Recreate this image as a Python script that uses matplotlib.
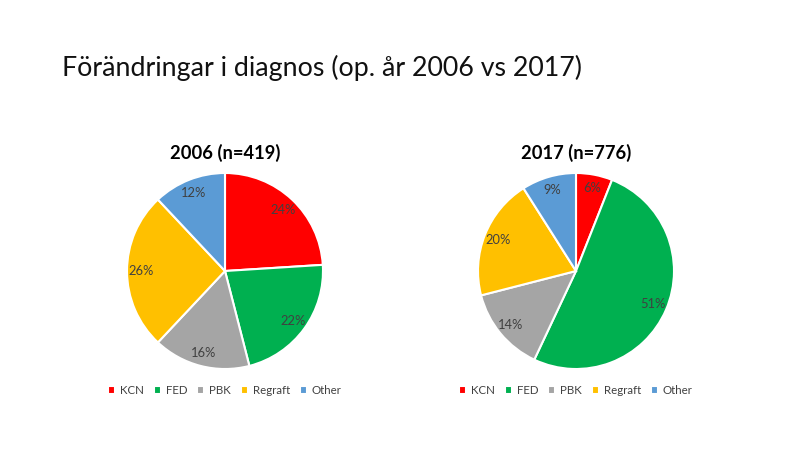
#!/usr/bin/env python3

import matplotlib
matplotlib.use('Agg')
import matplotlib.pyplot as plt

# diagnosis shares per year (percent)
categories = ['KCN', 'FED', 'PBK', 'Regraft', 'Other']
share_2006 = [24, 22, 16, 26, 12]
share_2017 = [6, 51, 14, 20, 9]
titles = ['2006 (n=419)', '2017 (n=776)']

colors = ['#FF0000', '#00B050', '#A5A5A5', '#FFC000', '#5B9BD5']

plt.rcParams['font.family'] = ['Lato', 'DejaVu Sans']

W, H = 800, 450


def pie_panel(fig, cx, cy, r, values, title):
    # place axes in pixel coords so the pie lands where it should
    ax = fig.add_axes([(cx - r) / W, 1 - (cy + r) / H, 2 * r / W, 2 * r / H])
    wedges, texts, autotexts = ax.pie(values, colors=colors, startangle=90,
        counterclock=False, radius=1, autopct='%d%%', pctdistance=0.86,
        wedgeprops=dict(edgecolor='white', linewidth=1.5),
        textprops=dict(color='#404040', fontsize=9.3))
    ax.set_xlim(-1, 1)
    ax.set_ylim(-1, 1)
    ax.set_aspect('equal')
    fig.text(cx / W, 1 - 153 / H, title, ha='center', va='center',
        fontsize=13.2, fontweight='bold', color='black')
    ax.legend(wedges, categories, loc='center', bbox_to_anchor=(0.5, -0.11),
        ncol=5, frameon=False, fontsize=8.3, handlelength=0.6, handleheight=0.6,
        handletextpad=0.4, columnspacing=0.9, labelcolor='#404040')
    return ax


def main():
    fig = plt.figure(figsize=(8, 4.5), dpi=100)
    fig.text(62 / W, 1 - 68 / H, 'Förändringar i diagnos (op. år 2006 vs 2017)',
        ha='left', va='center', fontsize=19.3, color='#111111')
    pie_panel(fig, 225, 271, 98, share_2006, titles[0])
    pie_panel(fig, 576, 271, 98, share_2017, titles[1])
    fig.savefig('out.png', dpi=100)


if __name__ == "__main__":
    main()
